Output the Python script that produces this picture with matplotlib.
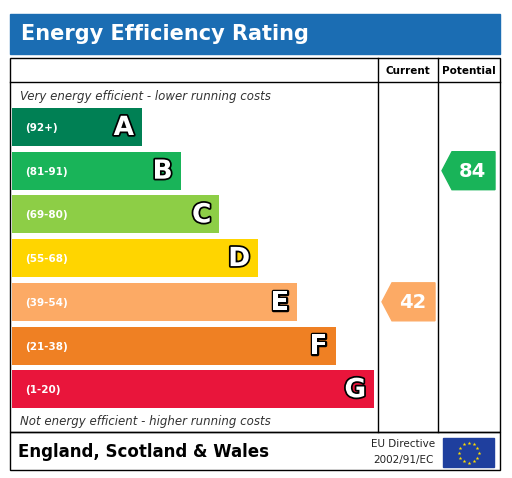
import numpy as np
import matplotlib
matplotlib.use("Agg")
import matplotlib.pyplot as plt
from matplotlib.patches import Rectangle, Polygon
import matplotlib.patheffects as pe

bands = ["A", "B", "C", "D", "E", "F", "G"]
ranges = ["(92+)", "(81-91)", "(69-80)", "(55-68)", "(39-54)", "(21-38)", "(1-20)"]
colors = ["#008054", "#19b459", "#8dce46", "#ffd500", "#fcaa65", "#ef8023", "#e9153b"]
lows = [92, 81, 69, 55, 39, 21, 1]
current = 42
potential = 84

fig = plt.figure(figsize=(5.12, 4.78), dpi=100)
ax = fig.add_axes([0, 0, 1, 1])
ax.set_xlim(0, 512); ax.set_ylim(478, 0); ax.axis("off")

# header
ax.add_patch(Rectangle((10, 14), 490, 40, color="#1b6db3"))
ax.text(21, 34, "Energy Efficiency Rating", color="white", fontsize=15, fontweight="bold", va="center")
# main box
ax.add_patch(Rectangle((10, 58), 490, 374, fill=False, lw=1, ec="black"))
ax.add_patch(Rectangle((10, 432), 490, 38, fill=False, lw=1, ec="black"))
for x in (378, 438):
    ax.plot([x, x], [58, 432], color="black", lw=1)
ax.plot([10, 500], [82, 82], color="black", lw=1)
ax.text(408, 71, "Current", fontsize=7.5, fontweight="bold", ha="center", va="center")
ax.text(469, 71, "Potential", fontsize=7.5, fontweight="bold", ha="center", va="center")
ax.text(20, 96, "Very energy efficient - lower running costs", fontsize=8.5, style="italic", color="#333", va="center")
ax.text(20, 421, "Not energy efficient - higher running costs", fontsize=8.5, style="italic", color="#333", va="center")

step = 43.7
top = 127
centers = [top + i * step for i in range(len(bands))]
widths = [130 + i * 38.7 for i in range(len(bands))]
ax.barh(centers, widths, height=38, left=12, color=colors)
for c, w, b, r in zip(centers, widths, bands, ranges):
    ax.text(25, c + 1, r, color="white", fontsize=7.5, fontweight="bold", va="center")
    t = ax.text(12 + w - 8, c + 1, b, color="white", fontsize=19, fontweight="bold", ha="right", va="center")
    t.set_path_effects([pe.withStroke(linewidth=2.5, foreground="black")])

def band_idx(v):
    for i, lo in enumerate(lows):
        if v >= lo:
            return i
    return len(lows) - 1

def arrow(x0, x1, v):
    i = band_idx(v); c = centers[i]; h = 19
    pts = [(x0, c), (x0 + 10, c - h), (x1, c - h), (x1, c + h), (x0 + 10, c + h)]
    ax.add_patch(Polygon(pts, closed=True, color=colors[i]))
    ax.text((x0 + x1) / 2 + 4, c + 1, str(v), color="white", fontsize=14, fontweight="bold", ha="center", va="center")

arrow(382, 435, current)
arrow(442, 495, potential)

# footer
ax.text(18, 452, "England, Scotland & Wales", fontsize=12, fontweight="bold", va="center")
ax.text(403, 444, "EU Directive", fontsize=7.5, ha="center", va="center", color="#222")
ax.text(403, 460, "2002/91/EC", fontsize=7.5, ha="center", va="center", color="#222")
ax.add_patch(Rectangle((443, 438), 51, 29, color="#1f3f9e"))
ang = np.linspace(0, 2 * np.pi, 13)[:-1]
ax.scatter(468.5 + 10 * np.cos(ang), 452.5 + 10 * np.sin(ang), marker="*", s=8, color="#ffdd00", lw=0)

fig.savefig("out.png", dpi=100)
